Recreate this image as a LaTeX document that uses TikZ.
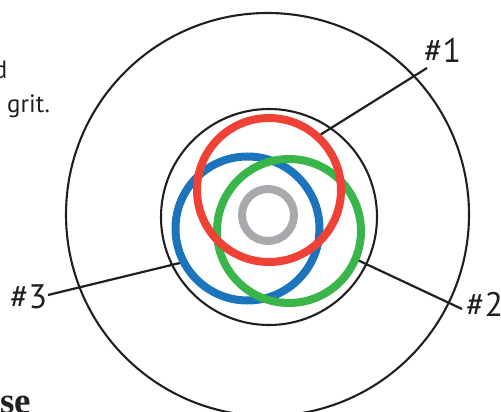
\documentclass[tikz,border=0pt]{standalone}
\usepackage{fontspec}
\setmainfont{PT Sans}
\newfontfamily\headfont{Liberation Serif}
\definecolor{ink}{HTML}{231F20}
\definecolor{ringred}{HTML}{EF4136}
\definecolor{ringblue}{HTML}{1C75BC}
\definecolor{ringgreen}{HTML}{39B54A}
\definecolor{ringgray}{HTML}{A7A9AC}
\begin{document}
\begin{tikzpicture}[x=1pt,y=-1pt,
  ring/.style={circle, inner sep=0pt, fill=none},
  thinring/.style={ring, draw=ink, line width=2.1pt},
  thickring/.style={ring, line width=8pt, minimum size=144pt},
  leader/.style={draw=ink, line width=2.2pt},
  tag/.style={font=\fontsize{34}{38}\selectfont, text=ink, inner sep=0pt},
  bodytext/.style={font=\fontsize{25}{28}\selectfont, text=ink, inner sep=0pt}]
\useasboundingbox (0,0) rectangle (501,412);
\begin{scope}
\clip (0,0) rectangle (501,412);
% outer rings
\node[thinring, minimum size=403pt] (outer) at (267.5,214.5) {};
\node[thinring, minimum size=216pt] (inner) at (269,217) {};
% core
\node[ring, draw=ringgray, line width=8pt, minimum size=52pt] (core) at (268,215) {};
% coloured rings
\node[thickring, draw=ringblue] (blue) at (247.5,228.5) {};
\node[thickring, draw=ringgreen] (green) at (289,231) {};
\node[thickring, draw=ringred] (red) at (269,190) {};
% labels
\node[tag, anchor=base west] (l1) at (424,63) {\#1};
\node[tag, anchor=base west] (l2) at (466,316) {\#2};
\node[tag, anchor=base west] (l3) at (10,308) {\#3};
\coordinate (e1) at (427,68);
\coordinate (e2) at (462,309);
\coordinate (e3) at (48,295);
\draw[leader] (red.47.5) -- (e1);
\draw[leader] (green.-23.9) -- (e2);
\draw[leader] (blue.207.6) -- (e3);
% cropped surrounding text
\node[bodytext, anchor=base east] (t1) at (7.5,78) {d};
\node[bodytext, anchor=base west] (t2) at (7,113) {grit.};
\node[font=\headfont\bfseries\fontsize{37}{40}\selectfont, text=ink, inner sep=0pt, anchor=base west] (t3) at (0,413) {se};
\end{scope}
\end{tikzpicture}
\end{document}
